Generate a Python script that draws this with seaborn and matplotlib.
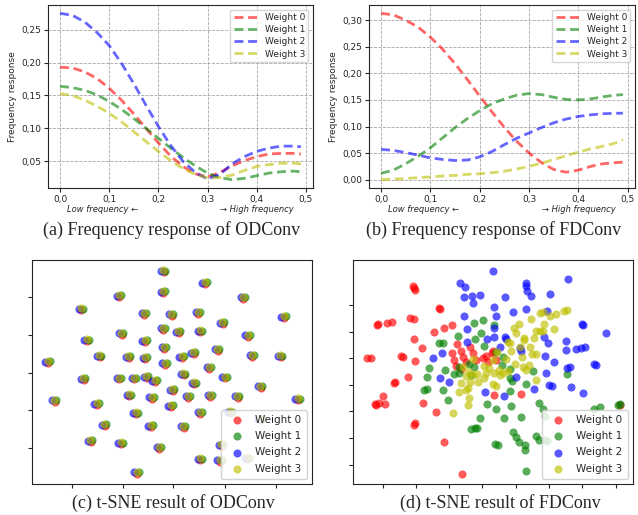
import pandas as pd
import seaborn as sns
import matplotlib.pyplot as plt
from matplotlib.ticker import FuncFormatter
from matplotlib.transforms import blended_transform_factory

sns.set_style("ticks")
plt.rcParams["font.family"] = ["DejaVu Sans"]

weights = ["Weight 0", "Weight 1", "Weight 2", "Weight 3"]
colors = ["r", "g", "b", "y"]

# frequency axis (normalised)
freq = [0, 0.025, 0.05, 0.075, 0.1, 0.125, 0.15, 0.175, 0.2, 0.225, 0.25,
        0.275, 0.3, 0.325, 0.35, 0.375, 0.4, 0.425, 0.45, 0.475, 0.49]

# (a) ODConv frequency response
od_w0 = [0.193, 0.192, 0.186, 0.176, 0.161, 0.143, 0.122, 0.100, 0.078, 0.058, 0.042,
         0.031, 0.026, 0.033, 0.043, 0.051, 0.057, 0.061, 0.062, 0.062, 0.061]
od_w1 = [0.164, 0.162, 0.158, 0.151, 0.141, 0.129, 0.115, 0.100, 0.085, 0.070, 0.056,
         0.043, 0.032, 0.025, 0.022, 0.024, 0.028, 0.032, 0.034, 0.035, 0.034]
od_w2 = [0.275, 0.272, 0.262, 0.246, 0.226, 0.199, 0.168, 0.135, 0.103, 0.074, 0.050,
         0.033, 0.023, 0.030, 0.046, 0.057, 0.065, 0.070, 0.073, 0.073, 0.072]
od_w3 = [0.153, 0.150, 0.143, 0.134, 0.123, 0.110, 0.095, 0.080, 0.065, 0.051, 0.039,
         0.030, 0.025, 0.025, 0.029, 0.036, 0.042, 0.045, 0.047, 0.047, 0.046]

# (b) FDConv frequency response
fd_w0 = [0.313, 0.310, 0.300, 0.287, 0.268, 0.245, 0.218, 0.188, 0.157, 0.127, 0.098,
         0.072, 0.050, 0.032, 0.019, 0.014, 0.018, 0.025, 0.030, 0.032, 0.033]
fd_w1 = [0.012, 0.018, 0.030, 0.044, 0.060, 0.079, 0.098, 0.115, 0.130, 0.143, 0.152,
         0.159, 0.162, 0.160, 0.155, 0.151, 0.150, 0.152, 0.156, 0.159, 0.160]
fd_w2 = [0.057, 0.055, 0.051, 0.046, 0.041, 0.038, 0.036, 0.037, 0.043, 0.053, 0.066,
         0.078, 0.088, 0.098, 0.107, 0.114, 0.119, 0.122, 0.124, 0.125, 0.125]
fd_w3 = [0.000, 0.001, 0.002, 0.004, 0.005, 0.007, 0.008, 0.010, 0.011, 0.013, 0.016,
         0.020, 0.025, 0.031, 0.038, 0.045, 0.052, 0.058, 0.063, 0.069, 0.075]

# (c) t-SNE of ODConv: cluster centres (all 4 weights land on top of each other)
od_centres = [(488, 63), (612, 98), (487, 125), (355, 137), (728, 142), (240, 177), (430, 190),
              (512, 193), (592, 187), (665, 218), (850, 200), (487, 235), (533, 245), (598, 243),
              (362, 250), (257, 270), (742, 256), (432, 272), (490, 292), (650, 298), (295, 318),
              (383, 320), (433, 323), (543, 320), (578, 308), (755, 316), (840, 318), (140, 335),
              (492, 340), (625, 352), (247, 387), (355, 385), (400, 385), (437, 380), (462, 393),
              (548, 372), (580, 400), (672, 382), (780, 410), (160, 452), (287, 462), (385, 436),
              (453, 443), (515, 420), (562, 440), (628, 437), (710, 440), (892, 448), (405, 490),
              (510, 468), (598, 488), (688, 487), (780, 508), (310, 525), (450, 528), (548, 530),
              (268, 573), (360, 580), (475, 593), (662, 585), (598, 628), (657, 632), (740, 625),
              (408, 668)]
# small shift of each weight inside a cluster
od_shift = [(3, 4), (8, -1), (-5, 0), (2, -2)]

# (d) t-SNE of FDConv
tsne_w0 = [(279, 108), (285, 120), (282, 114), (357, 175), (361, 178), (174, 223), (171, 225),
           (202, 220), (217, 216), (271, 205), (282, 208), (344, 245), (374, 235), (398, 225),
           (284, 266), (307, 295), (141, 323), (154, 323), (244, 319), (249, 320), (285, 333),
           (412, 283), (396, 310), (424, 302), (451, 292), (404, 330), (431, 320), (459, 310),
           (469, 330), (439, 335), (489, 325), (409, 348), (424, 358), (499, 318), (517, 310),
           (504, 335), (529, 330), (520, 302), (266, 382), (227, 398), (224, 400), (189, 438),
           (167, 463), (169, 467), (177, 460), (196, 462), (309, 460), (349, 486), (284, 525),
           (287, 520), (372, 576), (426, 674), (522, 436), (605, 433), (902, 465)]
tsne_w1 = [(464, 218), (491, 211), (414, 258), (484, 250), (467, 266), (357, 279), (369, 279),
           (493, 288), (327, 353), (377, 360), (419, 350), (448, 343), (464, 350), (529, 305),
           (524, 225), (550, 320), (548, 345), (572, 358), (640, 363), (322, 380), (404, 373),
           (419, 368), (454, 375), (314, 422), (321, 418), (369, 420), (385, 450), (502, 462),
           (529, 477), (481, 506), (455, 538), (465, 536), (471, 536), (527, 582), (535, 585),
           (572, 386), (578, 395), (620, 402), (572, 425), (573, 470), (604, 501), (554, 505),
           (658, 460), (670, 478), (675, 500), (743, 372), (823, 477), (842, 473), (895, 465),
           (900, 463), (580, 546), (590, 563), (599, 578), (615, 585), (615, 602), (648, 560),
           (658, 572), (675, 572), (682, 573), (618, 664)]
tsne_w2 = [(519, 62), (422, 100), (437, 110), (432, 140), (456, 137), (480, 135), (461, 158),
           (522, 170), (432, 197), (530, 198), (441, 238), (501, 267), (522, 262), (442, 275),
           (367, 310), (341, 323), (746, 87), (620, 98), (618, 108), (622, 122), (633, 138),
           (692, 132), (557, 140), (581, 186), (618, 178), (682, 182), (786, 223), (790, 225),
           (858, 250), (524, 235), (555, 260), (560, 268), (674, 260), (685, 278), (740, 272),
           (738, 300), (770, 296), (785, 294), (795, 290), (600, 295), (605, 302), (540, 292),
           (676, 318), (704, 337), (742, 355), (750, 350), (823, 343), (830, 346), (680, 370),
           (362, 386), (389, 397), (497, 426), (590, 380), (687, 405), (697, 408), (642, 418),
           (753, 413), (790, 430), (554, 440)]
tsne_w3 = [(429, 350), (459, 328), (494, 348), (509, 355), (519, 330), (449, 365), (524, 370),
           (660, 190), (670, 187), (692, 197), (708, 192), (732, 182), (742, 180), (634, 208),
           (597, 223), (583, 235), (590, 248), (673, 223), (650, 242), (662, 242), (670, 242),
           (702, 237), (614, 263), (614, 270), (642, 263), (565, 275), (570, 280), (632, 290),
           (600, 292), (575, 302), (532, 305), (608, 322), (638, 313), (650, 313), (558, 328),
           (585, 342), (610, 352), (628, 345), (620, 360), (538, 360), (550, 370), (439, 378),
           (461, 374), (471, 372), (499, 368), (424, 400), (452, 398), (475, 398), (444, 415),
           (440, 422), (419, 428), (494, 385), (519, 402), (529, 408), (447, 445), (446, 465),
           (401, 491), (540, 375), (650, 392), (565, 362)]

fig = plt.figure(figsize=(6.38, 5.15), dpi=100)
ax_a = fig.add_axes([0.0752, 0.635, 0.4154, 0.3553])
ax_b = fig.add_axes([0.5784, 0.635, 0.4169, 0.3553])
ax_c = fig.add_axes([0.0502, 0.0602, 0.4388, 0.4349])
ax_d = fig.add_axes([0.5533, 0.0602, 0.4389, 0.4349])

comma = FuncFormatter(lambda v, p: ("%.2f" % v).replace(".", ","))
comma1 = FuncFormatter(lambda v, p: ("%.1f" % v).replace(".", ","))

for ax, curves in [(ax_a, [od_w0, od_w1, od_w2, od_w3]), (ax_b, [fd_w0, fd_w1, fd_w2, fd_w3])]:
    for name, col, vals in zip(weights, colors, curves):
        sns.lineplot(x=freq, y=vals, ax=ax, color=col, alpha=0.6, lw=2.0,
                     linestyle="--", label=name)
    for ln in ax.get_lines():
        ln.set_dashes([3.2, 1.7])
    ax.grid(True, ls="--", color="0.65", lw=0.6)
    ax.set_axisbelow(True)
    ax.set_xticks([0, 0.1, 0.2, 0.3, 0.4, 0.5])
    ax.xaxis.set_major_formatter(comma1)
    ax.yaxis.set_major_formatter(comma)
    ax.tick_params(labelsize=6.5, length=3, pad=2)
    ax.set_ylabel("Frequency response", fontsize=6.5, labelpad=3)
    ax.legend(loc="upper right", fontsize=6.5, handlelength=2.6, borderpad=0.4,
              labelspacing=0.35, framealpha=0.8)
    tr = blended_transform_factory(ax.transData, ax.transAxes)
    ax.text(0.086, -0.115, "Low frequency \u2190", transform=tr, fontsize=6,
            style="italic", ha="center", va="center")
    ax.text(0.40, -0.115, "\u2192 High frequency", transform=tr, fontsize=6,
            style="italic", ha="center", va="center")

ax_a.set_yticks([0.05, 0.10, 0.15, 0.20, 0.25])
ax_b.set_yticks([0.0, 0.05, 0.10, 0.15, 0.20, 0.25, 0.30])

# (c) build points from cluster centres
od_rows = []
for i, name in enumerate(weights):
    dx, dy = od_shift[i]
    for cx, cy in od_centres:
        od_rows.append((cx + dx, cy + dy, name))
od_df = pd.DataFrame(od_rows, columns=["x", "y", "weight"])

fd_rows = []
for name, pts in zip(weights, [tsne_w0, tsne_w1, tsne_w2, tsne_w3]):
    for px, py in pts:
        fd_rows.append((px, py, name))
fd_df = pd.DataFrame(fd_rows, columns=["x", "y", "weight"])

for ax, df in [(ax_c, od_df), (ax_d, fd_df)]:
    for name, col in zip(weights, colors):
        sub = df[df["weight"] == name]
        sns.scatterplot(x=sub["x"], y=sub["y"], ax=ax, color=col, s=34, alpha=0.65,
                        linewidth=0, label=name)
    ax.set_xlabel("")
    ax.set_ylabel("")
    ax.set_ylim(703, 30)
    ax.tick_params(length=3, labelbottom=False, labelleft=False)
    ax.legend(loc="lower right", fontsize=7.5, borderpad=0.5, labelspacing=0.6,
              handletextpad=0.8, framealpha=0.85)

ax_c.set_xlim(95, 937)
ax_c.set_xticks([215, 370, 520, 675, 830])
ax_c.set_yticks([142, 255, 370, 482, 595])
ax_d.set_xlim(100, 940)
ax_d.set_xticks([190, 290, 388, 488, 588, 688, 786, 888])
ax_d.set_yticks([165, 245, 325, 405, 485, 565, 645])

cap = dict(fontfamily="Liberation Serif", fontsize=13, ha="center", va="center")
fig.text(0.269, 0.553, "(a) Frequency response of ODConv", **cap)
fig.text(0.774, 0.553, "(b) Frequency response of FDConv", **cap)
fig.text(0.272, 0.023, "(c) t-SNE result of ODConv", **cap)
fig.text(0.785, 0.023, "(d) t-SNE result of FDConv", **cap)

fig.savefig("out.png", dpi=100)
